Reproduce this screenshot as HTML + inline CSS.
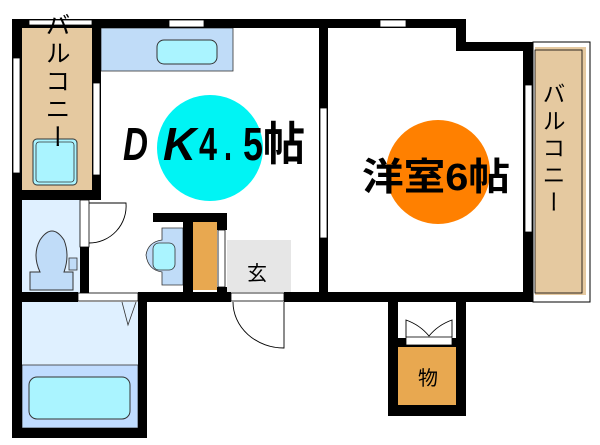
<!DOCTYPE html><html><head><meta charset="utf-8"><style>body{margin:0;background:#fff;position:relative;width:600px;height:445px;overflow:hidden}svg{display:block}text{font-family:"Liberation Sans","Noto Sans CJK JP",sans-serif}
.v{position:absolute;writing-mode:vertical-rl;font-family:"Noto Sans CJK JP",sans-serif;color:#000;line-height:1}</style></head><body>
<svg width="600" height="445" viewBox="0 0 600 445" xmlns="http://www.w3.org/2000/svg">
<rect width="600" height="445" fill="#fff"/>
<rect x="22" y="28" width="70" height="162" fill="#e5c9a0"/>
<rect x="33" y="139" width="44" height="46" rx="4" fill="#aaf4ff" stroke="#333" stroke-width="1"/>
<rect x="36" y="142" width="38" height="40" rx="3" fill="none" stroke="#333" stroke-width="0.8"/>
<rect x="101" y="28" width="132" height="43" fill="#c0dcf8" stroke="#333" stroke-width="0.8"/>
<rect x="157" y="40" width="60" height="24" rx="7" fill="#aaf4ff" stroke="#333" stroke-width="1"/>
<rect x="22" y="200" width="58" height="93" fill="#dff0ff"/>
<path d="M30 272 L30 290 L73 290 L73 272 L64 272 Q70 255 64 240 Q52 222 40 240 Q32 255 40 272 Z" fill="#c0dcf8" stroke="#333" stroke-width="1"/>
<rect x="69" y="258" width="8" height="12" fill="#c0dcf8" stroke="#333" stroke-width="0.8"/>
<rect x="22" y="302" width="116" height="63" fill="#dff0ff"/>
<rect x="22" y="365" width="116" height="63" fill="#c0dcff" stroke="#333" stroke-width="0.8"/>
<rect x="29" y="377" width="101" height="42" rx="8" fill="#aaf4ff" stroke="#333" stroke-width="1"/>
<path d="M122 302 L128 325 L136 302" fill="none" stroke="#333" stroke-width="0.8"/>
<path d="M183 228 L162 228 L162 240 Q148 242 146 255 Q148 270 162 272 L162 285 L183 285 Z" fill="#c0dcf8" stroke="#333" stroke-width="0.8"/>
<rect x="153" y="243" width="22" height="27" rx="6" fill="#aaf4ff" stroke="#333" stroke-width="0.8"/>
<rect x="193" y="222" width="24" height="68" fill="#e8a850"/>
<rect x="227" y="240" width="64" height="52" fill="#e6e6e6"/>
<rect x="398" y="347" width="58" height="58" fill="#e8a850"/>
<rect x="533" y="42" width="57" height="260" fill="#fff" stroke="#000" stroke-width="1"/>
<rect x="535" y="47" width="51" height="248" fill="#e5c9a0"/>
<rect x="535" y="50" width="47" height="243" fill="none" stroke="#000" stroke-width="0.8"/>
<circle cx="210" cy="148" r="53" fill="#00f4f4"/>
<circle cx="438" cy="172" r="52" fill="#ff8000"/>
<g fill="#000">
<rect x="12" y="19" width="454" height="9"/>
<rect x="456" y="19" width="10" height="32"/>
<rect x="456" y="42" width="77" height="9"/>
<rect x="523" y="42" width="10" height="260"/>
<rect x="12" y="19" width="10" height="419"/>
<rect x="92" y="19" width="9" height="181"/>
<rect x="12" y="190" width="89" height="10"/>
<rect x="80" y="247" width="9" height="46"/>
<rect x="12" y="292" width="66" height="10"/>
<rect x="138" y="292" width="93" height="10"/>
<rect x="284" y="292" width="249" height="10"/>
<rect x="138" y="292" width="9" height="146"/>
<rect x="12" y="428" width="135" height="10"/>
<rect x="319" y="28" width="9" height="264"/>
<rect x="153" y="213" width="74" height="9"/>
<rect x="183" y="213" width="10" height="79"/>
<rect x="217" y="222" width="10" height="8"/>
<rect x="217" y="287" width="10" height="5"/>
<rect x="388" y="292" width="10" height="124"/>
<rect x="456" y="292" width="10" height="124"/>
<rect x="388" y="405" width="78" height="11"/>
<rect x="388" y="338" width="78" height="9"/>
</g>
<g fill="#fff" stroke="#000" stroke-width="0.8">
<rect x="29" y="20" width="63" height="5"/>
<rect x="13" y="58" width="7" height="115"/>
<rect x="93" y="83" width="7" height="92"/>
<rect x="169" y="20" width="35" height="7"/>
<rect x="380" y="20" width="26" height="7"/>
<rect x="320" y="108" width="7" height="130"/>
<rect x="525" y="85" width="7" height="147"/>
<rect x="218" y="230" width="7" height="57"/>
<rect x="78" y="293" width="60" height="8"/>
<rect x="231" y="293" width="53" height="8"/>
<rect x="80" y="200" width="9" height="47"/>
<rect x="406" y="337" width="46" height="8"/>
</g>
<g fill="none" stroke="#000" stroke-width="0.9">
<path d="M89 203 L126 203 A37 37 0 0 1 89 243"/>
<path d="M284 302 L284 348 A51 46 0 0 1 233 302"/>
<path d="M406 337 L406 320 Q420 325 429 336 Q438 325 452 320 L452 337"/>
</g>
<g font-size="46" font-weight="bold" fill="#000">
<text x="123" y="160" font-style="italic" textLength="25" lengthAdjust="spacingAndGlyphs">D</text>
<text x="163" y="160" font-style="italic" textLength="33" lengthAdjust="spacingAndGlyphs">K</text>
<text x="199" y="160" textLength="18" lengthAdjust="spacingAndGlyphs">4</text>
<text x="224" y="160" textLength="8" lengthAdjust="spacingAndGlyphs">.</text>
<text x="243" y="160" textLength="20" lengthAdjust="spacingAndGlyphs">5</text>
<text x="263" y="160" textLength="42" lengthAdjust="spacingAndGlyphs">帖</text>
</g>
<text x="362" y="190" font-size="38" font-weight="bold" fill="#000" textLength="148" lengthAdjust="spacingAndGlyphs">洋室6帖</text>
<text x="257" y="280" font-size="20" text-anchor="middle" fill="#000">玄</text>
<text x="428" y="385" font-size="20" text-anchor="middle" fill="#000">物</text>
</svg>
<div class="v" style="left:45px;top:12px;font-size:25px;letter-spacing:3px">バルコニー</div>
<div class="v" style="left:542px;top:82px;font-size:23px;letter-spacing:4px">バルコニー</div>
</body></html>
